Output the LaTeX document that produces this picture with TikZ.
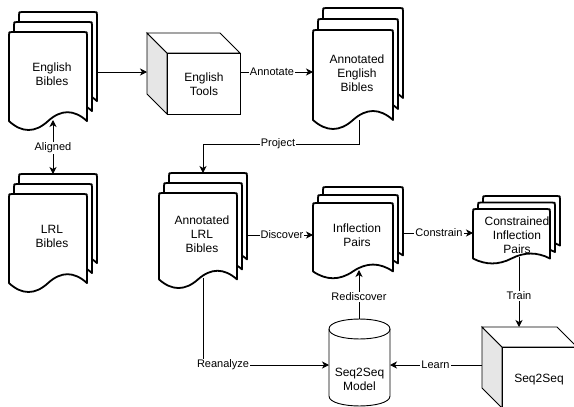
\documentclass[tikz,border=0pt]{standalone}
\usepackage{fontspec}
\setmainfont{Liberation Sans}
\usetikzlibrary{arrows.meta}
\definecolor{cubegray}{HTML}{E6E6E6}

% one document page: x y w h
\newcommand\onedoc[4]{%
 \pgfmathsetmacro\dcX{#1}\pgfmathsetmacro\dcY{#2}%
 \pgfmathsetmacro\dcW{#3}\pgfmathsetmacro\dcH{#4}%
 \pgfmathsetmacro\dcD{0.2*\dcH}%
 \pgfmathsetmacro\dcB{\dcY+\dcH-0.5*\dcD}%
 \pgfmathsetmacro\dcU{\dcB-0.6*\dcD}%
 \pgfmathsetmacro\dcL{\dcB+0.6*\dcD}%
 \filldraw[docline] (\dcX,\dcB) -- (\dcX,{\dcY+3})
   .. controls (\dcX,\dcY) .. ({\dcX+3},\dcY)
   -- ({\dcX+\dcW-3},\dcY)
   .. controls ({\dcX+\dcW},\dcY) .. ({\dcX+\dcW},{\dcY+3})
   -- ({\dcX+\dcW},\dcB)
   .. controls ({\dcX+5*\dcW/6},\dcU) and ({\dcX+2*\dcW/3},\dcU) .. ({\dcX+\dcW/2},\dcB)
   .. controls ({\dcX+\dcW/3},\dcL) and ({\dcX+\dcW/6},\dcL) .. (\dcX,\dcB) -- cycle;}

% three stacked pages: x0 y0 x1 y1 ox oy
\newcommand\multidoc[6]{%
 \pgfmathsetmacro\mdW{#3-#1-2*#5}\pgfmathsetmacro\mdH{#4-#2-2*#6}%
 \pgfmathsetmacro\mdXa{#1+2*#5}\pgfmathsetmacro\mdXb{#1+#5}%
 \pgfmathsetmacro\mdYb{#2+#6}\pgfmathsetmacro\mdYc{#2+2*#6}%
 \edef\mdTmpW{\mdW}\edef\mdTmpH{\mdH}%
 \edef\mdA{\mdXa}\edef\mdB{\mdXb}\edef\mdC{\mdYb}\edef\mdE{\mdYc}%
 \onedoc{\mdA}{#2}{\mdTmpW}{\mdTmpH}%
 \onedoc{\mdB}{\mdC}{\mdTmpW}{\mdTmpH}%
 \onedoc{#1}{\mdE}{\mdTmpW}{\mdTmpH}}

% cube: x0 y0 x1 y1 depth
\newcommand\cubeshape[5]{%
 \filldraw[cubeline, fill=cubegray] (#1,#2) -- ({#1+#5},{#2+#5}) -- ({#1+#5},#4) -- (#1,{#4-#5}) -- cycle;
 \filldraw[cubeline, fill=white] (#1,#2) -- ({#3-#5},#2) -- (#3,{#2+#5}) -- ({#1+#5},{#2+#5}) -- cycle;
 \filldraw[cubeline, fill=white] ({#1+#5},{#2+#5}) rectangle (#3,#4);}

\begin{document}
\begin{tikzpicture}[x=1pt,y=-1pt,
 docline/.style={line width=1.8pt, fill=white, draw=black, line join=round},
 cubeline/.style={line width=0.9pt, draw=black},
 edge/.style={line width=0.9pt, -{Stealth[length=7pt,width=7pt,inset=2pt]}},
 dedge/.style={line width=0.9pt, {Stealth[length=7pt,width=7pt,inset=2pt]}-{Stealth[length=7pt,width=7pt,inset=2pt]}},
 lbl/.style={font=\fontsize{12}{14}\selectfont, align=center, inner sep=0pt},
 elabel/.style={font=\fontsize{11}{13}\selectfont, fill=white, inner sep=1pt}]
\useasboundingbox (0,0) rectangle (574,407);
\clip (0,0) rectangle (574,407);

% shapes
\multidoc{9}{12}{97}{131}{5}{10}
\multidoc{313}{8}{403}{130}{5}{11}
\multidoc{9}{174}{97}{293}{5}{10}
\multidoc{159}{173}{247}{289}{5}{10}
\multidoc{313}{187}{403}{279}{5}{8}
\multidoc{473}{196}{560}{264}{5}{6.5}
\cubeshape{147}{33}{240}{114}{20}
\cubeshape{482}{327}{577}{408}{20}
% cylinder
\filldraw[cubeline, fill=white] (329,329) -- (329,396)
  .. controls (329,409.3) and (390,409.3) .. (390,396) -- (390,329)
  .. controls (390,315.7) and (329,315.7) .. (329,329) -- cycle;
\draw[cubeline] (329,329) .. controls (329,342.3) and (390,342.3) .. (390,329);

% texts
\node[lbl] (EB) at (52,74) {English\\Bibles};
\node[lbl] (AEB) at (357,73) {Annotated\\English\\Bibles};
\node[lbl] (LRL) at (52,236) {LRL\\Bibles};
\node[lbl] (ALRL) at (202,234) {Annotated\\LRL\\Bibles};
\node[lbl] (IP) at (357,235) {Inflection\\Pairs};
\node[lbl] (CIP) at (517,235) {Constrained\\Inflection\\Pairs};
\node[lbl] (ET) at (204,84) {English\\Tools};
\node[lbl] (S2S) at (539,380) {Seq2Seq};
\node[lbl] (S2SM) at (359.5,379) {Seq2Seq\\Model};

% attachment points
\coordinate (EBr) at (97,72);
\coordinate (ETl) at (147,72);
\coordinate (ETr) at (240,72);
\coordinate (AEBl) at (313,72);
\coordinate (EBb) at (53,120);
\coordinate (LRLt) at (53,174);
\coordinate (AEBb) at (359,120);
\coordinate (ALRLt) at (203,173);
\coordinate (ALRLr) at (247,235);
\coordinate (IPl) at (313,235);
\coordinate (IPr) at (403,233);
\coordinate (CIPl) at (473,233);
\coordinate (CIPb) at (519,257);
\coordinate (S2St) at (519,327);
\coordinate (S2Sl) at (482,365);
\coordinate (CYr) at (390,365);
\coordinate (CYt) at (359,319);
\coordinate (IPb) at (359,270);
\coordinate (ALRLb) at (203,278);
\coordinate (CYl) at (329,365);

% connectors
\draw[edge] (EBr) -- (ETl);
\draw[edge] (ETr) -- (AEBl);
\draw[dedge] (EBb) -- (LRLt);
\draw[edge] (AEBb) -- (AEBb |- 0,144) -- (ALRLt |- 0,144) -- (ALRLt);
\draw[edge] (ALRLr) -- (IPl);
\draw[edge] (IPr) -- (CIPl);
\draw[edge] (CIPb) -- (S2St);
\draw[edge] (S2Sl) -- (CYr);
\draw[edge] (CYt) -- (IPb);
\draw[edge] (ALRLb) -- (ALRLb |- CYl) -- (CYl);

% edge labels
\node[elabel] (lAli) at (53,148) {Aligned};
\node[elabel] (lAnn) at (272,72) {Annotate};
\node[elabel] (lPro) at (278,144) {Project};
\node[elabel] (lDis) at (282,235) {Discover};
\node[elabel] (lCon) at (439,233) {Constrain};
\node[elabel] (lTra) at (519,296) {Train};
\node[elabel] (lRed) at (359,297) {Rediscover};
\node[elabel] (lLea) at (435.5,365) {Learn};
\node[elabel] (lRea) at (223,365) {Reanalyze};
\end{tikzpicture}
\end{document}
